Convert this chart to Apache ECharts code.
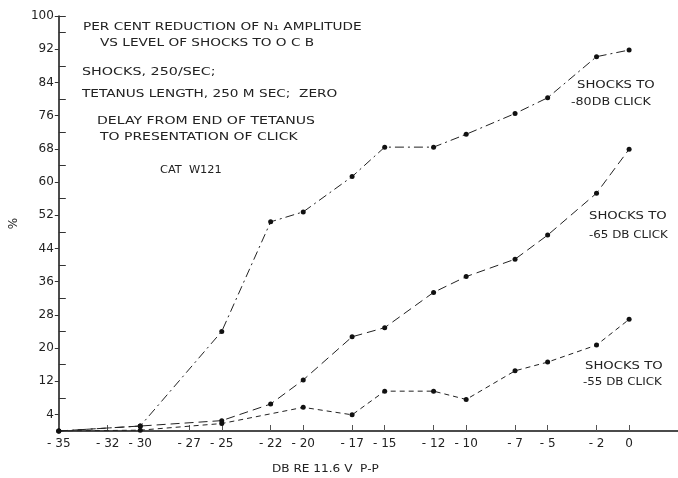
<!DOCTYPE html>
<html>
<head>
<meta charset="utf-8">
<script src="https://cdn.jsdelivr.net/npm/echarts@6/dist/echarts.min.js"></script>
<style>
html,body{margin:0;padding:0;background:#fff;}
#chart{width:678px;height:478px;}
</style>
</head>
<body>
<div id="chart"></div>
<script>
// ---- data ----
const xTickValues = [-35,-32,-30,-27,-25,-22,-20,-17,-15,-12,-10,-7,-5,-2,0];
const yLabelValues = [4,12,20,28,36,44,52,60,68,76,84,92,100];
const yMinorValues = [8,16,24,32,40,48,56,64,72,80,88,96];

const xLevelsAB = [-35,-30,-25,-22,-20,-17,-15,-12,-10,-7,-5,-2,0];
const shocksTo80 = [0,1.2,24.0,50.4,52.8,61.3,68.4,68.4,71.5,76.5,80.3,90.2,91.8];
const shocksTo65 = [0,1.2,2.5,6.5,12.3,22.7,24.9,33.4,37.2,41.4,47.2,57.3,67.9];
const xLevelsC = [-35,-30,-25,-20,-17,-15,-12,-10,-7,-5,-2,0];
const shocksTo55 = [0,0.2,1.8,5.7,3.9,9.6,9.6,7.6,14.5,16.6,20.7,26.9];

const pair = (xs, ys) => xs.map((x, i) => [x, ys[i]]);

const FONT = 'DejaVu Sans';
const INK = '#222';
const txt = (x, y, text, sx) => ({
  type: 'text', x, y, scaleX: sx || 1.27, scaleY: 1,
  style: { text, fill: INK, font: '11px "' + FONT + '"', textVerticalAlign: 'middle' }
});

const chart = echarts.init(document.getElementById('chart'));
const lineSeries = (name, data, dash) => ({
  name, type: 'line', data,
  symbol: 'circle', symbolSize: 5,
  itemStyle: { color: '#111' },
  lineStyle: { color: '#222', width: 1, type: dash },
  emphasis: { disabled: true },
  animation: false
});

chart.setOption({
  animation: false,
  grid: { left: 52, top: 16, right: 0, bottom: 47 },
  xAxis: {
    type: 'value', min: -35, max: 3,
    axisLine: { onZero: false, lineStyle: { color: '#111', width: 1.5 } },
    axisTick: { show: true, inside: true, length: 6, customValues: xTickValues, lineStyle: { color: '#555' } },
    axisLabel: {
      customValues: xTickValues, margin: 7,
      color: INK, fontFamily: FONT, fontSize: 12,
      formatter: v => v === 0 ? '0' : '- ' + Math.abs(v)
    },
    splitLine: { show: false }
  },
  yAxis: [{
    type: 'value', min: 0, max: 100, position: 'left',
    name: '%', nameLocation: 'middle', nameGap: 38, nameRotate: 90,
    nameTextStyle: { color: INK, fontFamily: FONT, fontSize: 12 },
    axisLine: { show: true, onZero: false, lineStyle: { color: '#111', width: 1.5 } },
    axisTick: { show: true, length: 4, customValues: yLabelValues, lineStyle: { color: '#333' } },
    axisLabel: { customValues: yLabelValues, margin: 5, color: INK, fontFamily: FONT, fontSize: 12 },
    splitLine: { show: false }
  }, {
    type: 'value', min: 0, max: 100, position: 'left',
    axisLine: { show: false, onZero: false },
    axisTick: { show: true, inside: true, length: 7, customValues: yMinorValues.concat([100]), lineStyle: { color: '#333' } },
    axisLabel: { show: false },
    splitLine: { show: false }
  }],
  series: [
    lineSeries('-80 DB', pair(xLevelsAB, shocksTo80), [9, 4, 2, 4]),
    lineSeries('-65 DB', pair(xLevelsAB, shocksTo65), [9, 5]),
    lineSeries('-55 DB', pair(xLevelsC, shocksTo55), [5, 4])
  ],
  graphic: [
    txt(83, 27, 'PER CENT REDUCTION OF N\u2081 AMPLITUDE', 1.24),
    txt(100, 43, 'VS LEVEL OF SHOCKS TO O C B', 1.24),
    txt(82, 72, 'SHOCKS, 250/SEC;', 1.3),
    txt(82, 94, 'TETANUS LENGTH, 250 M SEC;  ZERO', 1.24),
    txt(97, 121, 'DELAY FROM END OF TETANUS', 1.28),
    txt(100, 137, 'TO PRESENTATION OF CLICK', 1.27),
    txt(160, 170, 'CAT  W121', 1.03),
    txt(577, 85, 'SHOCKS TO', 1.2),
    txt(571, 102, '-80DB CLICK', 1.15),
    txt(589, 216, 'SHOCKS TO', 1.2),
    txt(589, 235, '-65 DB CLICK', 1.08),
    txt(585, 366, 'SHOCKS TO', 1.2),
    txt(583, 382, '-55 DB CLICK', 1.08),
    txt(272, 469, 'DB RE 11.6 V  P-P', 1.1)
  ]
});
</script>
</body>
</html>
